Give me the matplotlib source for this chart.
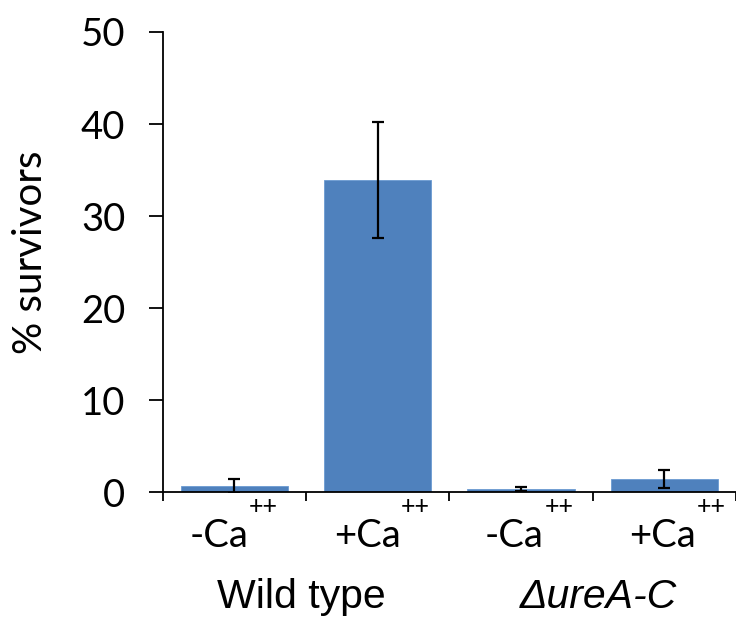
import matplotlib
matplotlib.use("Agg")
import matplotlib.pyplot as plt

# values
conditions = ["-Ca", "+Ca", "-Ca", "+Ca"]
survivors = [0.68, 33.9, 0.36, 1.42]
errors = [0.73, 6.3, 0.25, 1.0]
groups = ["Wild type", "\u0394ureA-C"]

BAR_COLOR = "#4F81BD"
LABEL_FONT = "Lato"
GROUP_FONT = "Liberation Sans"

fig = plt.figure(figsize=(7.36, 6.2), dpi=100)
# axes box in figure fractions (x axis runs to the right edge)
ax = fig.add_axes([162.7 / 736, (620 - 492.3) / 620, (736 - 162.7) / 736, 460.3 / 620])

x = list(range(len(survivors)))
ax.bar(x, survivors, width=0.75, color=BAR_COLOR, edgecolor="#6B9BD2", linewidth=0.6, zorder=2)
ax.errorbar(x, survivors, yerr=errors, fmt="none", ecolor="black", elinewidth=1.6,
            capsize=4.5, capthick=1.6, zorder=3)

ax.set_xlim(-0.5, 3.5)
ax.set_ylim(0, 50)
ax.set_yticks([0, 10, 20, 30, 40, 50])
ax.set_yticklabels([str(v) for v in range(0, 51, 10)], fontsize=27.5, family=LABEL_FONT)
ax.set_xticks([-0.5, 0.5, 1.5, 2.5, 3.5])
ax.set_xticklabels([])

for side in ["top", "right"]:
    ax.spines[side].set_visible(False)
for side in ["left", "bottom"]:
    ax.spines[side].set_linewidth(1.3)
ax.tick_params(axis="y", direction="out", length=10, width=1.3, pad=17)
ax.tick_params(axis="x", direction="out", length=6.5, width=1.3)

ax.set_ylabel("% survivors", fontsize=29, family=LABEL_FONT)
ax.yaxis.set_label_coords(-0.198, 0.522)

# condition labels with the "++" placed after them
label_x = [-0.105, 0.929, 1.952, 2.985]
plus_x = [0.102, 1.161, 2.163, 3.226]
for lx, px, name in zip(label_x, plus_x, conditions):
    ax.text(lx, -5.9, name, ha="center", va="baseline", fontsize=27.5, family=LABEL_FONT)
    ax.text(px, -1.54, "++", ha="left", va="center", fontsize=18, family=LABEL_FONT)

group_x = [0.465, 2.537]
ax.text(group_x[0], -12.58, groups[0], ha="center", va="baseline", fontsize=29.5, family=GROUP_FONT)
ax.text(group_x[1], -12.58, groups[1], ha="center", va="baseline", fontsize=29.5,
        family=GROUP_FONT, style="italic")

fig.savefig("out.png", dpi=100)
